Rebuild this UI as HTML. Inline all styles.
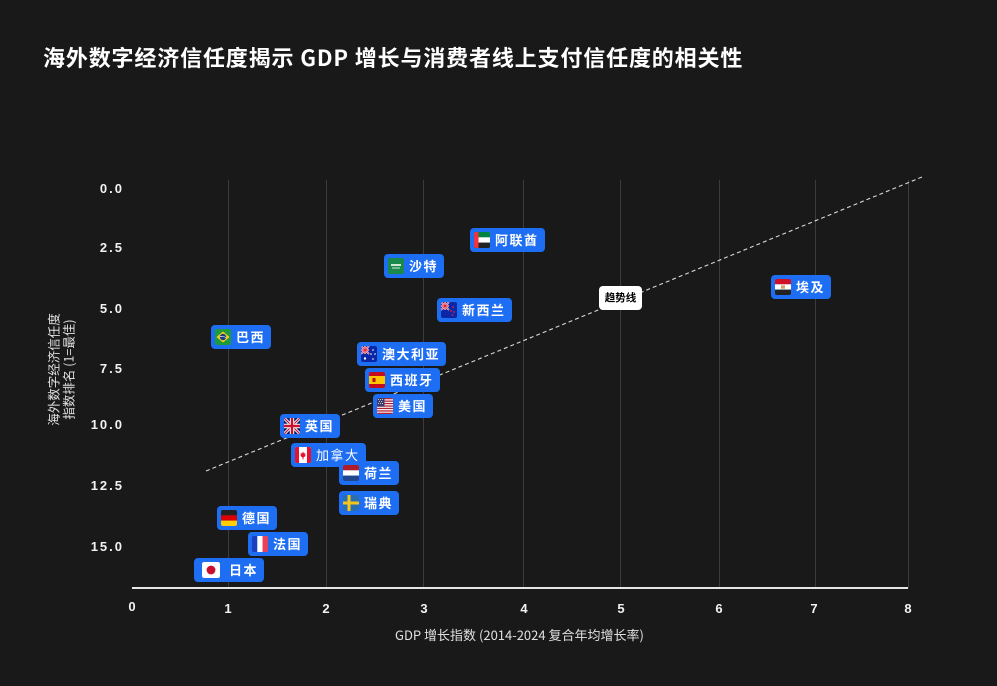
<!DOCTYPE html>
<html><head><meta charset="utf-8">
<style>
html,body{margin:0;padding:0;}
body{width:997px;height:686px;background:#191919;position:relative;overflow:hidden;font-family:"Liberation Sans","Noto Sans CJK SC",sans-serif;color:#fff;}
.title{position:absolute;left:43px;top:41px;font-size:22px;font-weight:bold;font-family:"Noto Sans CJK SC","Liberation Sans",sans-serif;white-space:nowrap;line-height:32px;letter-spacing:0.85px;}
.grid{position:absolute;top:180px;width:1px;height:408px;background:#3c3c3c;}
.axis{position:absolute;left:132px;top:587px;width:776px;height:2px;background:#e6e6e6;}
.yt{position:absolute;right:873px;font-size:13px;font-weight:bold;letter-spacing:2px;line-height:16px;color:#f2f2f2;}
.xt{position:absolute;width:30px;margin-left:-15px;text-align:center;font-size:13px;font-weight:bold;line-height:16px;color:#f2f2f2;}
.xtitle{position:absolute;left:395px;top:626px;font-size:13px;color:#e0e0e0;white-space:nowrap;font-family:"Noto Sans CJK SC","Liberation Sans",sans-serif;line-height:18px;}
.ytitle{position:absolute;left:61px;top:370px;width:140px;margin-left:-70px;margin-top:-15px;transform:rotate(-90deg);text-align:center;font-size:12.5px;line-height:14.5px;color:#e0e0e0;font-family:"Noto Sans CJK SC","Liberation Sans",sans-serif;white-space:nowrap;}
.b{position:absolute;height:24px;background:#1d6ef3;border-radius:4px;display:flex;align-items:center;box-sizing:border-box;padding-left:4px;}
.b svg{flex:none;margin-right:5px;border-radius:2px;}
.b span{font-size:13px;font-weight:bold;letter-spacing:1.5px;font-family:"Noto Sans CJK SC","Liberation Sans",sans-serif;line-height:16px;}
.trend{position:absolute;left:599px;top:286px;width:43px;height:24px;background:#fff;border-radius:4px;color:#000;font-size:10.5px;font-weight:bold;text-align:center;line-height:24px;font-family:"Noto Sans CJK SC","Liberation Sans",sans-serif;}
</style></head><body>
<div class="title">海外数字经济信任度揭示 GDP 增长与消费者线上支付信任度的相关性</div>

<div class="grid" style="left:228px"></div>
<div class="grid" style="left:326px"></div>
<div class="grid" style="left:423px"></div>
<div class="grid" style="left:523px"></div>
<div class="grid" style="left:620px"></div>
<div class="grid" style="left:719px"></div>
<div class="grid" style="left:815px"></div>
<div class="grid" style="left:908px"></div>
<div class="axis"></div>

<div class="yt" style="top:181px">0.0</div>
<div class="yt" style="top:240px">2.5</div>
<div class="yt" style="top:301px">5.0</div>
<div class="yt" style="top:361px">7.5</div>
<div class="yt" style="top:417px">10.0</div>
<div class="yt" style="top:478px">12.5</div>
<div class="yt" style="top:539px">15.0</div>

<div class="xt" style="left:132px;top:599px">0</div>
<div class="xt" style="left:228px;top:601px">1</div>
<div class="xt" style="left:326px;top:601px">2</div>
<div class="xt" style="left:424px;top:601px">3</div>
<div class="xt" style="left:524px;top:601px">4</div>
<div class="xt" style="left:621px;top:601px">5</div>
<div class="xt" style="left:719px;top:601px">6</div>
<div class="xt" style="left:814px;top:601px">7</div>
<div class="xt" style="left:908px;top:601px">8</div>

<div class="xtitle">GDP 增长指数 (2014-2024 复合年均增长率)</div>
<div class="ytitle">海外数字经济信任度<br>指数排名 (1=最佳)</div>

<svg style="position:absolute;left:0;top:0" width="997" height="686">
<line x1="206" y1="471" x2="922" y2="177" stroke="#d8d8d8" stroke-width="1.1" stroke-dasharray="4 3"/>
</svg>

<div class="trend">趋势线</div>

<!-- UAE -->
<div class="b" style="left:470px;top:228px;width:75px">
<svg width="16" height="16"><rect width="16" height="5.4" fill="#00843d"/><rect y="5.3" width="16" height="5.4" fill="#fff"/><rect y="10.6" width="16" height="5.4" fill="#222"/><rect width="4.5" height="16" fill="#ef3340"/></svg><span>阿联酋</span></div>
<!-- Saudi -->
<div class="b" style="left:384px;top:254px;width:60px">
<svg width="16" height="16"><rect width="16" height="16" fill="#1a8a4a"/><rect x="3" y="6" width="10" height="2" fill="#cfe8d6"/><rect x="4" y="9.5" width="8" height="1" fill="#cfe8d6"/></svg><span>沙特</span></div>
<!-- NZ -->
<div class="b" style="left:437px;top:298px;width:75px">
<svg width="16" height="16"><rect width="16" height="16" fill="#0b27a8"/><g><path d="M0,0L8,8M8,0L0,8" stroke="#fff" stroke-width="1.6"/><path d="M4,0V8M0,4H8" stroke="#fff" stroke-width="2.2"/><path d="M4,0V8M0,4H8" stroke="#e0243a" stroke-width="1.2"/><path d="M0,0L8,8M8,0L0,8" stroke="#e0243a" stroke-width="0.6"/></g><circle cx="12" cy="5" r="0.9" fill="#e0243a"/><circle cx="10" cy="9" r="0.9" fill="#e0243a"/><circle cx="13" cy="10" r="0.9" fill="#e0243a"/><circle cx="11.5" cy="13" r="0.9" fill="#e0243a"/></svg><span>新西兰</span></div>
<!-- Brazil -->
<div class="b" style="left:211px;top:325px;width:60px">
<svg width="16" height="16"><rect width="16" height="16" fill="#1e9a3e"/><path d="M8,2.5L14.5,8L8,13.5L1.5,8Z" fill="#f7d117"/><circle cx="8" cy="8" r="3.2" fill="#1d3a8a"/><path d="M5,7.5Q8,6.8 11,8.5" stroke="#fff" stroke-width="0.7" fill="none"/></svg><span>巴西</span></div>
<!-- Australia -->
<div class="b" style="left:357px;top:342px;width:89px">
<svg width="16" height="16"><rect width="16" height="16" fill="#0b27a8"/><g><path d="M0,0L8,8M8,0L0,8" stroke="#fff" stroke-width="1.6"/><path d="M4,0V8M0,4H8" stroke="#fff" stroke-width="2.2"/><path d="M4,0V8M0,4H8" stroke="#e0243a" stroke-width="1.2"/><path d="M0,0L8,8M8,0L0,8" stroke="#e0243a" stroke-width="0.6"/></g><circle cx="4" cy="12.5" r="1.2" fill="#fff"/><circle cx="12" cy="4" r="0.8" fill="#fff"/><circle cx="10" cy="8" r="0.8" fill="#fff"/><circle cx="14" cy="8" r="0.8" fill="#fff"/><circle cx="12" cy="13" r="0.8" fill="#fff"/></svg><span>澳大利亚</span></div>
<!-- Spain -->
<div class="b" style="left:365px;top:368px;width:75px">
<svg width="16" height="16"><rect width="16" height="16" fill="#c60b1e"/><rect y="4" width="16" height="8" fill="#ffc400"/><rect x="3.5" y="6" width="3" height="4" fill="#ad1519"/></svg><span>西班牙</span></div>
<!-- USA -->
<div class="b" style="left:373px;top:394px;width:60px">
<svg width="16" height="16"><rect width="16" height="16" fill="#fff"/><rect y="0" width="16" height="1.3" fill="#b22234"/><rect y="2.5" width="16" height="1.3" fill="#b22234"/><rect y="4.9" width="16" height="1.3" fill="#b22234"/><rect y="7.4" width="16" height="1.3" fill="#b22234"/><rect y="9.8" width="16" height="1.3" fill="#b22234"/><rect y="12.3" width="16" height="1.3" fill="#b22234"/><rect y="14.7" width="16" height="1.3" fill="#b22234"/><rect width="7.5" height="8.6" fill="#3c3b6e"/><g fill="#ccc"><rect x="1" y="1" width="1" height="1"/><rect x="3" y="1" width="1" height="1"/><rect x="5" y="1" width="1" height="1"/><rect x="2" y="3" width="1" height="1"/><rect x="4" y="3" width="1" height="1"/><rect x="1" y="5" width="1" height="1"/><rect x="3" y="5" width="1" height="1"/><rect x="5" y="5" width="1" height="1"/></g></svg><span>美国</span></div>
<!-- UK -->
<div class="b" style="left:280px;top:414px;width:60px">
<svg width="16" height="16"><rect width="16" height="16" fill="#012169"/><path d="M0,0L16,16M16,0L0,16" stroke="#fff" stroke-width="3"/><path d="M0,0L16,16M16,0L0,16" stroke="#c8102e" stroke-width="1.2"/><path d="M8,0V16M0,8H16" stroke="#fff" stroke-width="4.4"/><path d="M8,0V16M0,8H16" stroke="#c8102e" stroke-width="2.4"/></svg><span>英国</span></div>
<!-- Canada -->
<div class="b" style="left:291px;top:443px;width:75px">
<svg width="16" height="16"><rect width="16" height="16" fill="#fff"/><rect width="4" height="16" fill="#e8112d"/><rect x="12" width="4" height="16" fill="#e8112d"/><path d="M8,4.5L9,6.5L10.5,6L10,8.5L11,8.5L8,11L5,8.5L6,8.5L5.5,6L7,6.5Z" fill="#e8112d"/><rect x="7.6" y="10.5" width="0.8" height="2" fill="#e8112d"/></svg><span style="font-weight:normal">加拿大</span></div>
<!-- Netherlands -->
<div class="b" style="left:339px;top:461px;width:60px">
<svg width="16" height="16"><rect width="16" height="5.4" fill="#ae1c28"/><rect y="5.3" width="16" height="5.4" fill="#fff"/><rect y="10.6" width="16" height="5.4" fill="#21468b"/></svg><span>荷兰</span></div>
<!-- Sweden -->
<div class="b" style="left:339px;top:491px;width:60px">
<svg width="16" height="16"><rect width="16" height="16" fill="#2a6fb0"/><rect x="4.5" width="3" height="16" fill="#f5c518"/><rect y="6.5" width="16" height="3" fill="#f5c518"/></svg><span>瑞典</span></div>
<!-- Germany -->
<div class="b" style="left:217px;top:506px;width:60px">
<svg width="16" height="16"><rect width="16" height="5.4" fill="#222"/><rect y="5.3" width="16" height="5.4" fill="#dd0000"/><rect y="10.6" width="16" height="5.4" fill="#ffce00"/></svg><span>德国</span></div>
<!-- France -->
<div class="b" style="left:248px;top:532px;width:60px">
<svg width="16" height="16"><rect width="5.4" height="16" fill="#1d3fbf"/><rect x="5.3" width="5.4" height="16" fill="#fff"/><rect x="10.6" width="5.4" height="16" fill="#ef4155"/></svg><span>法国</span></div>
<!-- Japan -->
<div class="b" style="left:194px;top:558px;width:70px;padding-left:8px">
<svg width="18" height="16" style="margin-right:9px"><rect width="18" height="16" rx="2" fill="#fff"/><circle cx="9" cy="8" r="4.4" fill="#c8102e"/></svg><span>日本</span></div>
<!-- Egypt -->
<div class="b" style="left:771px;top:275px;width:60px">
<svg width="16" height="16"><rect width="16" height="5.4" fill="#ce1126"/><rect y="5.3" width="16" height="5.4" fill="#fff"/><rect y="10.6" width="16" height="5.4" fill="#222"/><rect x="6" y="6.3" width="4" height="3.4" fill="#c9a86a"/></svg><span>埃及</span></div>

</body></html>
